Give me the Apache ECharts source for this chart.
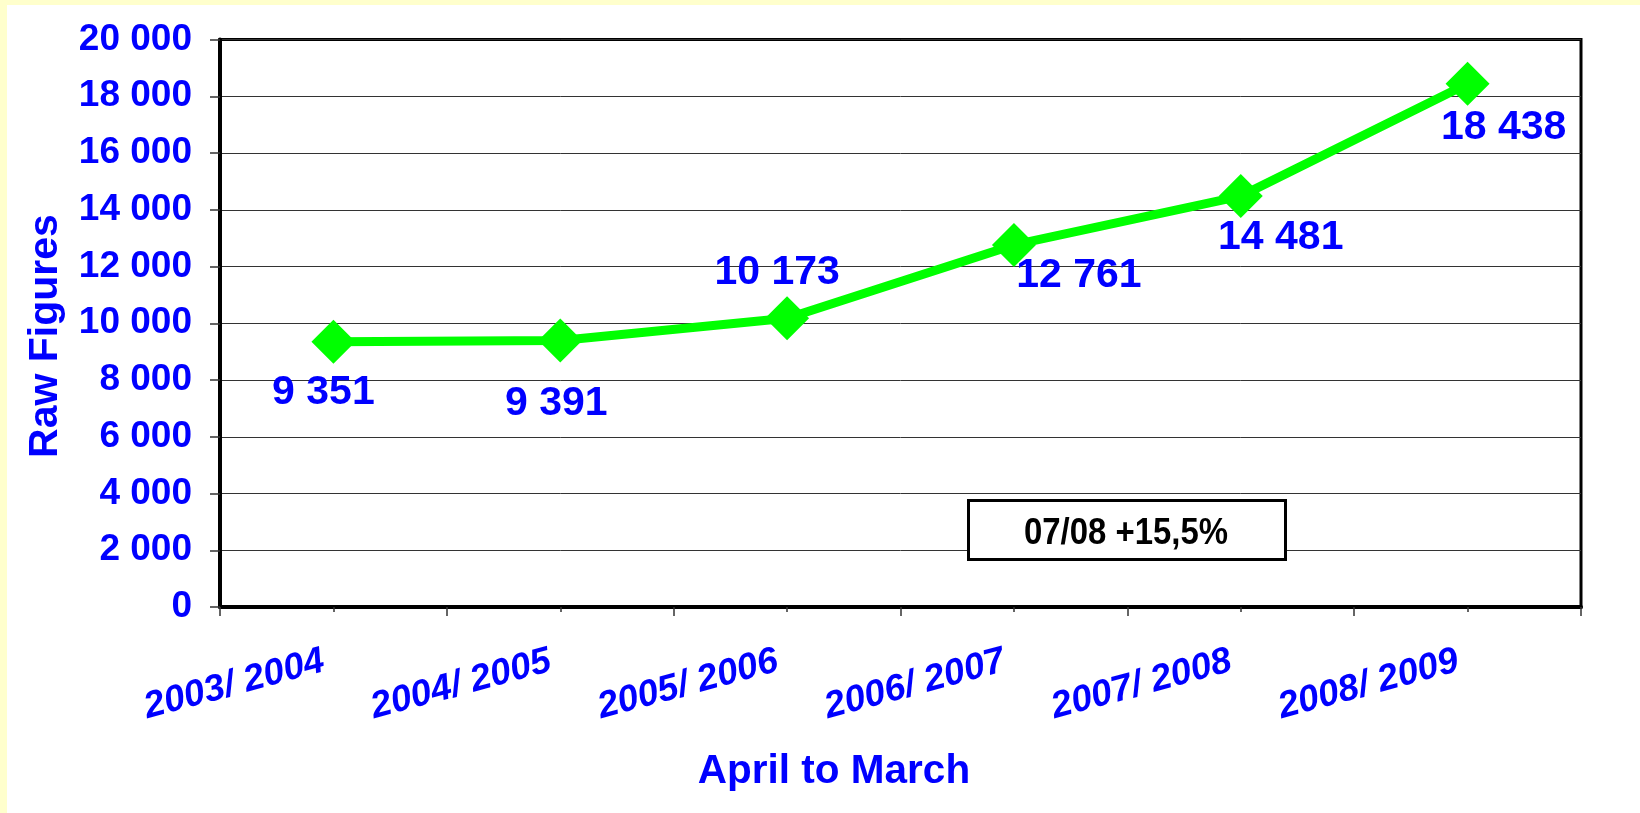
<!DOCTYPE html>
<html><head><meta charset="utf-8">
<script src="https://cdn.jsdelivr.net/npm/echarts@6/dist/echarts.min.js"></script>
<style>html,body{margin:0;padding:0;background:#fff}#c{width:1640px;height:813px}</style>
</head><body><div id="c"></div>
<script>
const categories = ['2003/ 2004','2004/ 2005','2005/ 2006','2006/ 2007','2007/ 2008','2008/ 2009'];
const rawFigures = [9351, 9391, 10173, 12761, 14481, 18438];
const yMin = 0, yMax = 20000, yInterval = 2000;
const annotationText = '07/08 +15,5%';
const yAxisTitle = 'Raw Figures';
const xAxisTitle = 'April to March';

// layout only: where each value label sits relative to its point
const labelOffsets = [[-10,51],[-4,63],[-10,-46],[65,31],[40,42],[36,44]];

const FONT = '"Liberation Sans", Arial, sans-serif';
const BLUE = '#0000FF';
const fmt = v => String(v).replace(/\B(?=(\d{3})+(?!\d))/g, ' ');

const grid = {left:220, right:59, top:39.5, bottom:206};
const gridH = 813 - grid.top - grid.bottom;

const chart = echarts.init(document.getElementById('c'), null, {renderer:'canvas'});
chart.setOption({
  animation:false,
  backgroundColor:'#ffffff',
  grid:Object.assign({show:true, borderColor:'#000', borderWidth:3, backgroundColor:'#fff', containLabel:false, outerBoundsMode:'none'}, grid),
  xAxis:[{
    type:'category', data:categories, boundaryGap:true,
    axisLine:{show:true, lineStyle:{color:'#000', width:4}},
    axisTick:{show:true, length:9, lineStyle:{color:'#333', width:1.5}},
    axisLabel:{interval:0, rotate:15, margin:51, padding:[0,10,0,0], color:BLUE, fontSize:37, fontWeight:'bold', fontStyle:'italic', fontFamily:FONT},
    splitLine:{show:false}
  },{
    type:'category', data:categories, position:'top', offset:-gridH,
    axisLine:{show:false},
    axisTick:{show:true, alignWithLabel:true, inside:true, length:5, lineStyle:{color:'#333', width:1.5}},
    axisLabel:{show:false}, splitLine:{show:false}
  }],
  yAxis:{
    type:'value', min:yMin, max:yMax, interval:yInterval,
    axisLine:{show:true, lineStyle:{color:'#000', width:4}},
    axisTick:{show:true, length:10, lineStyle:{color:'#333', width:1.5}},
    axisLabel:{margin:28, color:BLUE, fontSize:37, fontWeight:'bold', fontFamily:FONT, formatter:fmt},
    splitLine:{show:true, lineStyle:{color:'#333', width:1}}
  },
  series:[{
    type:'line', xAxisIndex:0,
    symbol:'diamond', symbolSize:44,
    lineStyle:{color:'#00FF00', width:9},
    itemStyle:{color:'#00FF00'},
    data:rawFigures.map((v,i)=>({value:v, label:{
      show:true, position:'inside', offset:labelOffsets[i],
      align:'center', verticalAlign:'middle',
      color:BLUE, fontSize:41, fontWeight:'bold', fontFamily:FONT,
      textBorderWidth:0, formatter:p=>fmt(p.value)
    }}))
  }],
  graphic:[
    {type:'rect', z:-10, shape:{x:0,y:0,width:7,height:813}, style:{fill:'#FFFFCC'}},
    {type:'rect', z:-10, shape:{x:0,y:0,width:1640,height:5}, style:{fill:'#FFFFCC'}},
    {type:'rect', z:100, shape:{x:968.5,y:500.5,width:317,height:59}, style:{fill:'#fff', stroke:'#000', lineWidth:3}},
    {type:'text', z:101, x:1126, y:534, scaleX:0.89, style:{text:annotationText, fill:'#000', fontSize:37, fontWeight:'bold', fontFamily:FONT, align:'center', verticalAlign:'middle'}},
    {type:'text', x:46, y:336, rotation:Math.PI/2, style:{text:yAxisTitle, fill:BLUE, fontSize:41, fontWeight:'bold', fontFamily:FONT, align:'center', verticalAlign:'middle'}},
    {type:'text', x:834, y:772, style:{text:xAxisTitle, fill:BLUE, fontSize:40.5, fontWeight:'bold', fontFamily:FONT, align:'center', verticalAlign:'middle'}}
  ]
});
</script></body></html>
